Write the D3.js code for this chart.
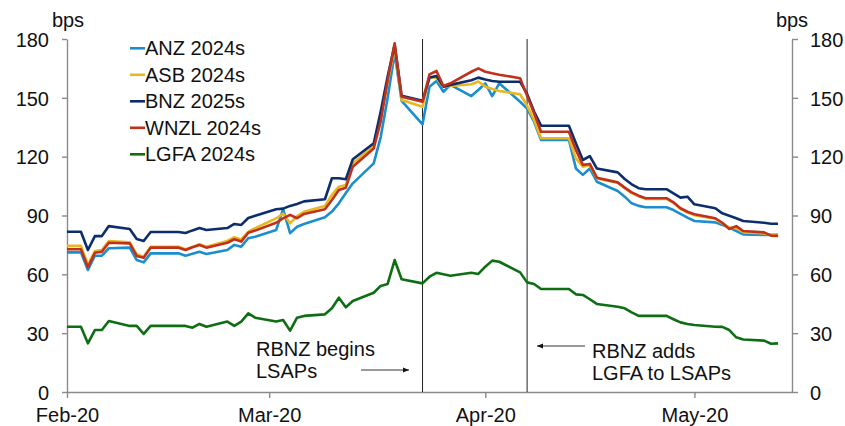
<!DOCTYPE html>
<html>
<head>
<meta charset="utf-8">
<script src="https://cdn.jsdelivr.net/npm/d3@7"></script>
<style>
  html, body { margin: 0; padding: 0; background: #fff; }
  svg text { font-family: "Liberation Sans", Arial, sans-serif; fill: #111; }
</style>
</head>
<body>
<svg id="chart" width="845" height="426"></svg>
<script>
// ---- data ----
const dates = [
  "2020-02-01","2020-02-03","2020-02-04","2020-02-05","2020-02-06","2020-02-07",
  "2020-02-10","2020-02-11","2020-02-12","2020-02-13","2020-02-14",
  "2020-02-17","2020-02-18","2020-02-19","2020-02-20","2020-02-21",
  "2020-02-24","2020-02-25","2020-02-26","2020-02-27","2020-02-28",
  "2020-03-02","2020-03-03","2020-03-04","2020-03-05","2020-03-06",
  "2020-03-09","2020-03-10","2020-03-11","2020-03-12","2020-03-13",
  "2020-03-16","2020-03-17","2020-03-18","2020-03-19","2020-03-20",
  "2020-03-23","2020-03-24","2020-03-25","2020-03-26","2020-03-27",
  "2020-03-30","2020-03-31","2020-04-01","2020-04-02","2020-04-03",
  "2020-04-06","2020-04-07","2020-04-08","2020-04-09","2020-04-10",
  "2020-04-13","2020-04-14","2020-04-15","2020-04-16","2020-04-17",
  "2020-04-20","2020-04-21","2020-04-22","2020-04-23","2020-04-24",
  "2020-04-27","2020-04-28","2020-04-29","2020-04-30","2020-05-01",
  "2020-05-04","2020-05-05","2020-05-06","2020-05-07","2020-05-08",
  "2020-05-11","2020-05-12","2020-05-13"
];
const anz = [
  71.2,71.2,62.2,69.5,69.5,73.3,
  73.6,67.3,66.1,70.7,70.7,
  70.7,69.5,70.5,71.5,70.4,
  72.4,75.0,74.1,78.4,79.2,
  82.6,93.2,81.0,84.3,85.7,
  89.1,92.0,96.2,101.5,106.4,
  116.6,130,150,172.7,148.5,
  136.5,155.7,158.6,153.1,156.6,
  150.9,154.0,157.4,150.9,157.4,
  148.0,144.5,137.8,128.5,128.5,
  128.5,114.0,110.7,114.0,107.2,
  102.5,99.6,96.2,94.9,94.2,
  94.2,92.8,90.8,88.9,87.2,
  86.5,85.2,83.8,82.1,80.4,
  80.1,80.1,80.1
];
const asb = [
  74.5,74.5,64.8,71.9,72.4,77.0,
  76.3,70.2,69.0,74.1,74.1,
  74.1,72.8,74.0,75.3,74.1,
  77.0,78.9,77.8,81.7,83.5,
  88.5,91.0,86.0,89.7,91.9,
  94.9,100.5,104.7,105.6,116.6,
  125.4,140,158,175.5,148.9,
  145.5,160.8,160.0,155.7,156.0,
  156.9,158.3,155.7,154.5,153.5,
  151.8,146.0,138.7,129.4,129.4,
  129.4,119.1,114.9,115.8,108.9,
  106.7,103.9,101.4,99.8,98.5,
  98.5,96.4,93.4,91.5,90.2,
  88.3,86.0,83.8,83.6,81.5,
  80.8,80.1,80.0
];
const bnz = [
  81.7,81.7,72.4,79.5,79.5,84.6,
  83.1,78.0,77.0,81.6,81.6,
  81.6,81.1,82.4,83.6,82.6,
  83.6,85.7,85.2,88.7,89.9,
  93.2,93.5,94.9,95.9,97.2,
  98.3,109.0,109.0,108.5,118.7,
  126.8,143,161,177.0,151.0,
  148.5,160.3,161.1,155.7,156.6,
  159.0,160.3,159.4,158.6,158.2,
  158.2,152.0,143.0,135.8,135.8,
  135.8,126.8,118.3,120.3,114.0,
  112.0,108.6,105.9,103.9,103.4,
  103.4,101.3,99.1,99.6,95.7,
  93.7,91.1,89.9,88.6,87.2,
  86.3,85.8,85.8
];
const wnzl = [
  72.8,72.8,63.6,71.0,71.5,76.1,
  75.8,69.4,68.5,73.6,73.6,
  73.6,72.4,73.8,75.0,73.6,
  76.1,77.9,76.7,81.2,82.3,
  86.3,88.5,90.3,88.6,90.8,
  93.2,97.9,103.0,104.2,114.9,
  124.2,138,159,177.8,150.6,
  148.0,162.0,163.7,156.0,157.4,
  163.3,165.0,163.3,162.5,161.8,
  160.0,151.0,142.1,132.7,132.7,
  132.7,123.4,115.8,116.3,109.3,
  106.9,104.2,101.8,100.1,98.8,
  98.8,96.7,93.7,91.9,90.6,
  88.6,86.3,83.1,84.6,82.1,
  81.4,79.7,79.6
];
const lgfa = [
  33.3,33.3,24.8,31.6,31.6,36.2,
  33.7,33.7,29.6,33.7,33.7,
  33.7,33.7,32.8,34.7,33.3,
  35.9,33.7,35.9,40.1,37.9,
  35.9,36.7,31.3,37.9,38.8,
  39.6,42.7,48.1,43.2,46.4,
  50.6,54.1,55.1,67.3,57.5,
  55.4,58.8,60.8,60.0,59.3,
  60.8,60.2,63.9,67.0,66.4,
  61.0,55.9,55.1,52.5,52.5,
  52.5,49.8,49.5,47.3,44.9,
  43.5,42.7,40.6,38.8,38.8,
  38.8,37.1,35.5,34.7,34.2,
  33.3,33.2,31.6,27.9,26.8,
  26.2,24.6,24.8
];
const seriesNames = ["ANZ 2024s","ASB 2024s","BNZ 2025s","WNZL 2024s","LGFA 2024s"];
const seriesColors = ["#1a8fd0","#e8b81e","#0c2e6c","#c0311d","#0d6e14"];
const yTicks = [0,30,60,90,120,150,180];
const xTickDates = ["2020-02-01","2020-03-01","2020-04-01","2020-05-01"];
const xTickLabels = ["Feb-20","Mar-20","Apr-20","May-20"];
const eventDates = ["2020-03-23","2020-04-07"];

// ---- chart ----
const parse = d3.timeParse("%Y-%m-%d");
const svg = d3.select("#chart");
const L = 67, R = 792, T = 39, B = 392;
const x = d3.scaleTime().domain([parse("2020-02-01"), parse("2020-05-15")]).range([L, R]);
const y = d3.scaleLinear().domain([0, 180]).range([B, T]);
const axisColor = "#8a8a8a";

function styleAxis(g) {
  g.selectAll("path").attr("stroke", axisColor).attr("stroke-width", 1.4);
  g.selectAll("line").attr("stroke", axisColor).attr("stroke-width", 1.4);
  g.selectAll("text").attr("font-size", 20).attr("fill", "#111")
    .attr("font-family", '"Liberation Sans", Arial, sans-serif');
}

// left axis
const yl = svg.append("g").attr("transform", `translate(${L},0)`)
  .call(d3.axisLeft(y).tickValues(yTicks).tickSize(5).tickSizeOuter(0).tickPadding(13));
styleAxis(yl);
yl.selectAll("text").attr("dy", "0.36em");
// right axis
const yr = svg.append("g").attr("transform", `translate(${R},0)`)
  .call(d3.axisRight(y).tickValues(yTicks).tickSize(6).tickSizeOuter(0).tickPadding(12));
styleAxis(yr);
yr.selectAll("text").attr("dy", "0.36em");
// bottom axis
const xa = svg.append("g").attr("transform", `translate(0,${B})`)
  .call(d3.axisBottom(x).tickValues(xTickDates.map(parse))
    .tickFormat((d, i) => xTickLabels[i]).tickSize(6).tickSizeOuter(0).tickPadding(10));
styleAxis(xa);
xa.selectAll("text").attr("dy", "0.71em");

// bps labels
svg.append("text").attr("x", L + 1).attr("y", 27).attr("text-anchor", "middle").attr("font-size", 20).text("bps");
svg.append("text").attr("x", R).attr("y", 27).attr("text-anchor", "middle").attr("font-size", 20).text("bps");

// event lines
svg.selectAll("line.event").data(eventDates).enter().append("line")
  .attr("class", "event")
  .attr("x1", d => x(parse(d))).attr("x2", d => x(parse(d)))
  .attr("y1", T).attr("y2", B)
  .attr("stroke", "#222").attr("stroke-width", 1);

// series lines
const dts = dates.map(parse);
const allSeries = [anz, asb, bnz, wnzl, lgfa];
const line = d3.line().x((d, i) => x(dts[i])).y(d => y(d));
allSeries.forEach((s, k) => {
  svg.append("path").datum(s)
    .attr("fill", "none").attr("stroke", seriesColors[k])
    .attr("stroke-width", 2.6).attr("stroke-linejoin", "round")
    .attr("d", line);
});

// legend
const lg = svg.append("g");
seriesNames.forEach((n, k) => {
  const cy = 48.3 + k * 26.5;
  lg.append("line").attr("x1", 130).attr("x2", 145).attr("y1", cy).attr("y2", cy)
    .attr("stroke", seriesColors[k]).attr("stroke-width", 2.6);
  lg.append("text").attr("x", 145).attr("y", cy + 7).attr("font-size", 20).text(n);
});

// arrow marker
const defs = svg.append("defs");
defs.append("marker").attr("id", "ah").attr("viewBox", "0 0 10 10")
  .attr("refX", 10).attr("refY", 5).attr("markerWidth", 6).attr("markerHeight", 6)
  .attr("markerUnits", "userSpaceOnUse").attr("orient", "auto")
  .append("path").attr("d", "M0,1 L10,5 L0,9 Z").attr("fill", "#111");

// annotations
const a1 = svg.append("text").attr("font-size", 20);
a1.append("tspan").attr("x", 256).attr("y", 356).text("RBNZ begins");
a1.append("tspan").attr("x", 256).attr("y", 378).text("LSAPs");
svg.append("line").attr("x1", 361).attr("x2", 409).attr("y1", 370).attr("y2", 370)
  .attr("stroke", "#333").attr("stroke-width", 1).attr("marker-end", "url(#ah)");

const a2 = svg.append("text").attr("font-size", 20);
a2.append("tspan").attr("x", 592).attr("y", 358).text("RBNZ adds");
a2.append("tspan").attr("x", 592).attr("y", 380).text("LGFA to LSAPs");
svg.append("line").attr("x1", 585).attr("x2", 537).attr("y1", 346).attr("y2", 346)
  .attr("stroke", "#333").attr("stroke-width", 1).attr("marker-end", "url(#ah)");
</script>
</body>
</html>
